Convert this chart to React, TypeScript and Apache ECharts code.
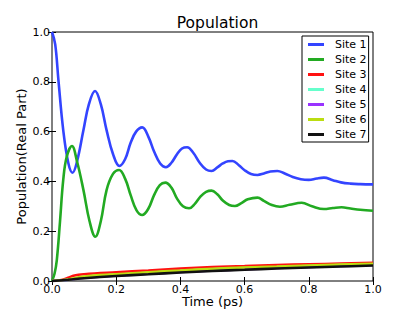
import React, { useEffect, useRef } from "react";
import * as echarts from "echarts";

const seriesNames = ["Site 1", "Site 2", "Site 3", "Site 4", "Site 5", "Site 6", "Site 7"];
const seriesColors = ["#3344ff", "#22aa22", "#ff1111", "#66ffcc", "#9933ff", "#bbdd11", "#111111"];

const site1 = [
  [0, 1.0], [0.01, 0.95], [0.02, 0.807], [0.035, 0.606], [0.051, 0.473], [0.064, 0.435],
  [0.078, 0.48], [0.098, 0.606], [0.115, 0.71], [0.134, 0.763], [0.152, 0.71], [0.17, 0.606],
  [0.19, 0.51], [0.21, 0.462], [0.228, 0.49], [0.245, 0.555], [0.262, 0.6], [0.281, 0.617],
  [0.3, 0.58], [0.318, 0.52], [0.337, 0.472], [0.355, 0.457], [0.372, 0.475], [0.39, 0.51],
  [0.405, 0.532], [0.421, 0.537], [0.44, 0.515], [0.46, 0.475], [0.48, 0.448], [0.497, 0.442],
  [0.515, 0.456], [0.532, 0.472], [0.548, 0.481], [0.562, 0.482], [0.582, 0.465], [0.6, 0.445],
  [0.62, 0.43], [0.64, 0.426], [0.66, 0.432], [0.68, 0.44], [0.702, 0.442], [0.725, 0.432],
  [0.75, 0.418], [0.775, 0.409], [0.8, 0.406], [0.825, 0.412], [0.847, 0.415], [0.875, 0.405],
  [0.9, 0.396], [0.93, 0.391], [0.96, 0.389], [1.0, 0.388],
];
const site2 = [
  [0, 0], [0.008, 0.03], [0.015, 0.084], [0.025, 0.24], [0.035, 0.406], [0.046, 0.5], [0.062, 0.542],
  [0.078, 0.48], [0.098, 0.365], [0.117, 0.24], [0.135, 0.178], [0.152, 0.24], [0.17, 0.365],
  [0.19, 0.43], [0.209, 0.446], [0.228, 0.41], [0.245, 0.345], [0.263, 0.285], [0.281, 0.265],
  [0.3, 0.29], [0.318, 0.345], [0.336, 0.385], [0.353, 0.395], [0.372, 0.375], [0.39, 0.33],
  [0.408, 0.3], [0.427, 0.292], [0.445, 0.31], [0.463, 0.34], [0.48, 0.358], [0.497, 0.363],
  [0.515, 0.348], [0.533, 0.322], [0.552, 0.305], [0.57, 0.301], [0.59, 0.313], [0.61, 0.328],
  [0.64, 0.335], [0.66, 0.322], [0.685, 0.305], [0.71, 0.298], [0.74, 0.306], [0.778, 0.314],
  [0.81, 0.3], [0.847, 0.289], [0.875, 0.293], [0.902, 0.296], [0.93, 0.291], [0.96, 0.286],
  [1.0, 0.282],
];
const site3 = [
  [0, 0], [0.03, 0.004], [0.05, 0.013], [0.07, 0.022], [0.1, 0.027], [0.2, 0.035], [0.3, 0.042],
  [0.4, 0.05], [0.5, 0.056], [0.6, 0.06], [0.7, 0.064], [0.8, 0.067], [0.9, 0.07], [1.0, 0.073],
];
const site4 = [
  [0, 0], [0.05, 0.005], [0.1, 0.016], [0.2, 0.025], [0.3, 0.033], [0.4, 0.04], [0.5, 0.047],
  [0.6, 0.052], [0.7, 0.056], [0.8, 0.06], [0.9, 0.064], [1.0, 0.067],
];
const site5 = [
  [0, 0], [0.05, 0.005], [0.1, 0.013], [0.2, 0.022], [0.3, 0.029], [0.4, 0.036], [0.5, 0.042],
  [0.6, 0.047], [0.7, 0.052], [0.8, 0.056], [0.9, 0.06], [1.0, 0.064],
];
const site6 = [
  [0, 0], [0.05, 0.006], [0.1, 0.018], [0.2, 0.027], [0.3, 0.035], [0.4, 0.042], [0.5, 0.049],
  [0.6, 0.054], [0.7, 0.058], [0.8, 0.062], [0.9, 0.066], [1.0, 0.069],
];
const site7 = [
  [0, 0], [0.05, 0.005], [0.1, 0.011], [0.2, 0.02], [0.3, 0.027], [0.4, 0.034], [0.5, 0.04],
  [0.6, 0.045], [0.7, 0.05], [0.8, 0.054], [0.9, 0.058], [1.0, 0.062],
];
const seriesData = [site1, site2, site3, site4, site5, site6, site7];

const FONT = "DejaVu Sans";

export default function App() {
  const ref = useRef<HTMLDivElement>(null);
  useEffect(() => {
    if (!ref.current) return;
    const chart = echarts.init(ref.current, null, { renderer: "svg" });
    const fmt = (v: number) => v.toFixed(1);
    const tickCommon = { show: true, inside: true, length: 4, lineStyle: { color: "#000", width: 1 } };
    chart.setOption({
      animation: false,
      backgroundColor: "#fff",
      title: {
        text: "Population",
        left: 212.5,
        top: 10,
        textAlign: "center",
        textStyle: { fontFamily: FONT, fontSize: 15.5, fontWeight: "normal", color: "#000" },
      },
      grid: {
        left: 52, right: 42, top: 32, bottom: 31,
        outerBoundsMode: "none",
        containLabel: false,
        show: true, borderColor: "#000", borderWidth: 1, backgroundColor: "transparent",
      },
      legend: {
        orient: "vertical",
        left: 302,
        top: 36,
        padding: [1, 2, 0, 6],
        itemGap: 0,
        itemWidth: 16,
        itemHeight: 3,
        icon: "rect",
        borderColor: "#000",
        borderWidth: 1,
        backgroundColor: "#fff",
        textStyle: { fontFamily: FONT, fontSize: 11, color: "#000", lineHeight: 15, padding: [0, 0, 0, 6] },
        data: seriesNames,
      },
      xAxis: [
        {
          type: "value", min: 0, max: 1, interval: 0.2, position: "bottom",
          name: "Time (ps)", nameLocation: "middle", nameGap: 14, nameMoveOverlap: false,
          nameTextStyle: { fontFamily: FONT, fontSize: 13, color: "#000" },
          axisLine: { show: false }, splitLine: { show: false }, axisTick: tickCommon,
          axisLabel: { fontFamily: FONT, fontSize: 11, color: "#000", margin: 3, formatter: fmt },
        },
        {
          type: "value", min: 0, max: 1, interval: 0.2, position: "top",
          axisLine: { show: false }, splitLine: { show: false }, axisTick: tickCommon,
          axisLabel: { show: false },
        },
      ],
      yAxis: [
        {
          type: "value", min: 0, max: 1, interval: 0.2, position: "left",
          name: "Population(Real Part)", nameLocation: "middle", nameGap: 24, nameMoveOverlap: false,
          nameTextStyle: { fontFamily: FONT, fontSize: 13, color: "#000" },
          axisLine: { show: false }, splitLine: { show: false }, axisTick: tickCommon,
          axisLabel: { fontFamily: FONT, fontSize: 11, color: "#000", margin: 2, formatter: fmt },
        },
        {
          type: "value", min: 0, max: 1, interval: 0.2, position: "right",
          axisLine: { show: false }, splitLine: { show: false }, axisTick: tickCommon,
          axisLabel: { show: false },
        },
      ],
      series: seriesNames.map((name, i) => ({
        name,
        type: "line",
        xAxisIndex: 0,
        yAxisIndex: 0,
        data: seriesData[i],
        smooth: 0.4,
        showSymbol: false,
        symbol: "none",
        color: seriesColors[i],
        lineStyle: { color: seriesColors[i], width: 2.6 },
        itemStyle: { color: seriesColors[i] },
      })),
    });
    return () => chart.dispose();
  }, []);
  return (
    <div
      ref={ref}
      style={{ position: "absolute", left: 0, top: 0, width: 415, height: 312 }}
    />
  );
}
